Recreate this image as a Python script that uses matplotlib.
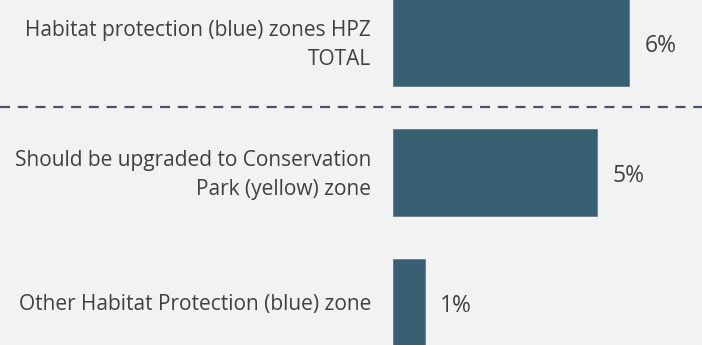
import matplotlib.pyplot as plt

categories = [
    "Habitat protection (blue) zones HPZ\nTOTAL",
    "Should be upgraded to Conservation\nPark (yellow) zone",
    "Other Habitat Protection (blue) zone",
]
values = [5.9, 5.1, 0.8]

BAR_COLOR = "#386072"
TEXT_COLOR = "#404040"
BG = "#f2f2f2"

plt.rcParams["font.family"] = ["Open Sans", "DejaVu Sans"]

fig = plt.figure(figsize=(7.02, 3.45), dpi=100, facecolor=BG)
ax = fig.add_axes([0, 0, 1, 1], facecolor=BG)

ypos = list(range(len(values)))
ax.barh(ypos, values, height=0.67, color=BAR_COLOR, edgecolor="#5a7f90", linewidth=0.6)

for y, v, name in zip(ypos, values, categories):
    # category name right-aligned just left of the bar base
    ax.annotate(name, (0, y), xytext=(-15.8, -1.5), textcoords="offset points",
                ha="right", va="center", fontsize=15, color=TEXT_COLOR,
                multialignment="right", linespacing=1.5)
    ax.annotate(f"{v:.0f}%", (v, y), xytext=(11, -2.5), textcoords="offset points",
                ha="left", va="center", fontsize=16.5, color=TEXT_COLOR)

# separator between the total and its breakdown
ax.axhline(0.5, color="#44546a", linewidth=1.6, linestyle=(0, (4.5, 3.5)))

ax.set_xlim(-393 / 40, (702 - 393) / 40)
ax.set_ylim((345 - 42.5) / 130, -42.5 / 130)
ax.axis("off")

fig.savefig("out.png", dpi=100, facecolor=BG)
